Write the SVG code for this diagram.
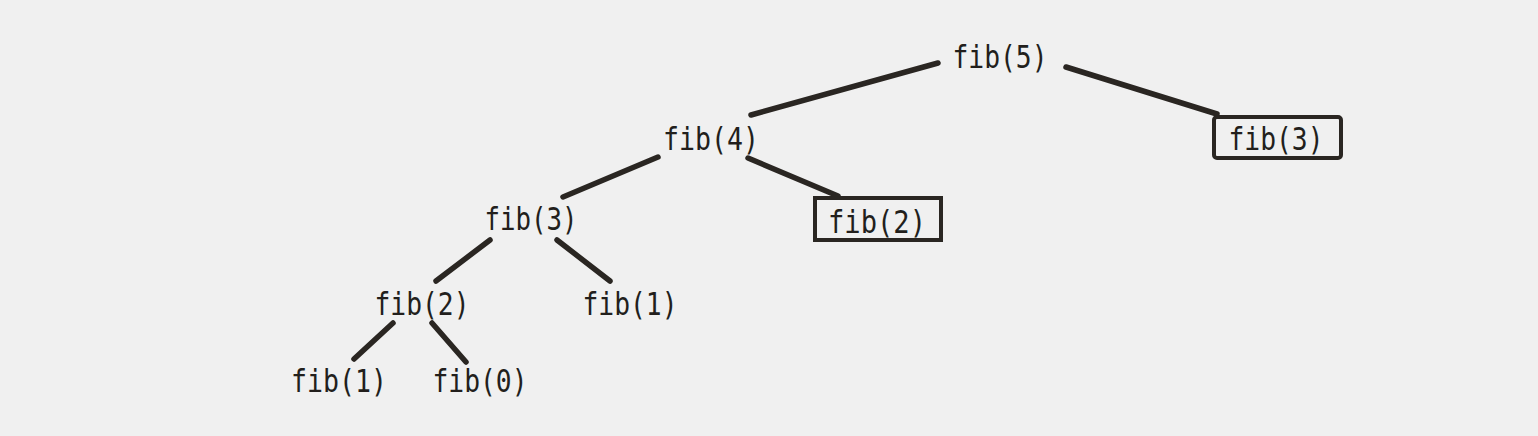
<svg xmlns="http://www.w3.org/2000/svg" width="1538" height="436" viewBox="0 0 1538 436">
<style>
.t{font-family:"DejaVu Sans Mono","Liberation Mono",monospace;font-size:32px;fill:#221f1c;text-anchor:middle}
.e{stroke:#2a2622;stroke-width:5.5;stroke-linecap:round;fill:none}
.b{fill:none;stroke:#2a2622;stroke-width:4}
</style>
<rect width="1538" height="436" fill="#f0f0f0"/>
<g id="connectors">
<line class="e" x1="938" y1="63" x2="751" y2="115"/>
<line class="e" x1="1066" y1="67" x2="1217" y2="114"/>
<line class="e" x1="658" y1="157" x2="563" y2="197"/>
<line class="e" x1="748" y1="158" x2="838" y2="196"/>
<line class="e" x1="490" y1="240" x2="436" y2="281"/>
<line class="e" x1="557" y1="240" x2="610" y2="281"/>
<line class="e" x1="393" y1="323" x2="354" y2="359"/>
<line class="e" x1="432" y1="323" x2="466" y2="362"/>
</g>
<g id="fib5"><text class="t" x="1000" y="68" textLength="95" lengthAdjust="spacingAndGlyphs">fib(5)</text></g>
<g id="fib4"><text class="t" x="711" y="150" textLength="96" lengthAdjust="spacingAndGlyphs">fib(4)</text></g>
<g id="fib3b"><rect class="b" x="1214" y="117" width="127" height="41" rx="3"/><text class="t" x="1276" y="150" textLength="95" lengthAdjust="spacingAndGlyphs">fib(3)</text></g>
<g id="fib3"><text class="t" x="531" y="230" textLength="93" lengthAdjust="spacingAndGlyphs">fib(3)</text></g>
<g id="fib2b"><rect class="b" x="815" y="198" width="126" height="42"/><text class="t" x="877" y="233" textLength="98" lengthAdjust="spacingAndGlyphs">fib(2)</text></g>
<g id="fib2"><text class="t" x="422" y="315" textLength="95" lengthAdjust="spacingAndGlyphs">fib(2)</text></g>
<g id="fib1a"><text class="t" x="630" y="315" textLength="95" lengthAdjust="spacingAndGlyphs">fib(1)</text></g>
<g id="fib1b"><text class="t" x="339" y="392" textLength="96" lengthAdjust="spacingAndGlyphs">fib(1)</text></g>
<g id="fib0"><text class="t" x="480" y="392" textLength="95" lengthAdjust="spacingAndGlyphs">fib(0)</text></g>
</svg>
